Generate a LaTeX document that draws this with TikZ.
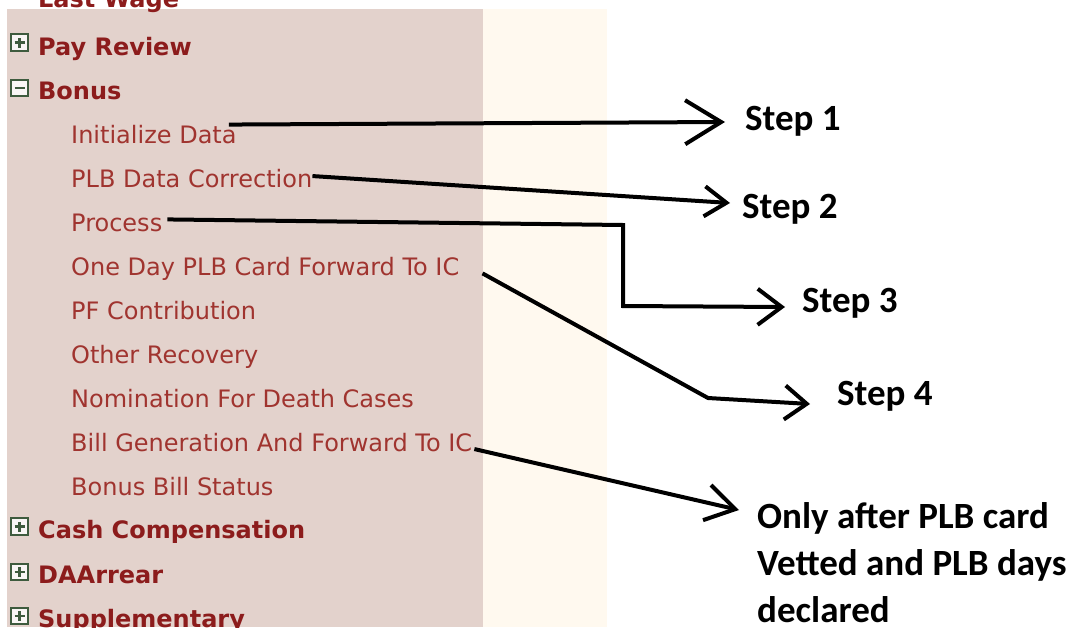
\documentclass[tikz,border=0pt]{standalone}
\usepackage{fontspec}
\setmainfont{DejaVu Sans}
\newfontfamily\stepfont{Carlito}
\usetikzlibrary{arrows.meta,calc}
\definecolor{panel}{HTML}{E3D2CC}
\definecolor{cream}{HTML}{FFF9EF}
\definecolor{headred}{HTML}{8C1C1C}
\definecolor{itemred}{HTML}{A0342F}
\definecolor{boxgreen}{HTML}{3E5B3E}
\begin{document}
\begin{tikzpicture}[x=1pt,y=-1pt,
  head/.style={anchor=base west, inner sep=0pt, font=\fontsize{24}{24}\selectfont\bfseries, text=headred},
  item/.style={anchor=base west, inner sep=0pt, font=\fontsize{24}{24}\selectfont, text=itemred},
  steplabel/.style={anchor=base west, inner sep=0pt, font=\stepfont\bfseries\fontsize{37}{37}\selectfont, text=black},
  notelabel/.style={anchor=north west, inner sep=0pt, align=left, font=\stepfont\bfseries\fontsize{37}{47}\selectfont, text=black},
  togglebox/.style={draw=boxgreen, line width=2pt, fill=white!80!panel, minimum size=16.5pt, inner sep=0pt},
  plusbox/.style={togglebox, path picture={
      \draw[boxgreen, line width=2.2pt]
        ([xshift=-5pt]path picture bounding box.center) -- ([xshift=5pt]path picture bounding box.center)
        ([yshift=-5pt]path picture bounding box.center) -- ([yshift=5pt]path picture bounding box.center);}},
  minusbox/.style={togglebox, path picture={
      \draw[boxgreen, line width=2.2pt]
        ([xshift=-5pt]path picture bounding box.center) -- ([xshift=5pt]path picture bounding box.center);}},
  link/.style={line width=4pt, line join=miter, draw=black}
]
\clip (0,0) rectangle (1082,627);
\fill[white] (0,0) rectangle (1082,627);
% panels
\fill[panel] (7,9) rectangle (483,627);
\fill[cream] (483,9) rectangle (607,627);

% headings
\node[head] (lastwage) at (38,7) {Last Wage};
\node[plusbox] (tpay) at (19.5,42.5) {};
\node[head] (payreview) at (38,55) {Pay Review};
\node[minusbox] (tbonus) at (19.5,88) {};
\node[head] (bonus) at (38,99) {Bonus};

% sub items
\node[item] (init) at (71,143) {Initialize Data};
\node[item] (plb) at (71,187) {PLB Data Correction};
\node[item] (proc) at (71,231) {Process};
\node[item] (oneday) at (71,275) {One Day PLB Card Forward To IC};
\node[item] (pf) at (71,319) {PF Contribution};
\node[item] (other) at (71,363) {Other Recovery};
\node[item] (nomin) at (71,407) {Nomination For Death Cases};
\node[item] (billgen) at (71,451) {Bill Generation And Forward To IC};
\node[item] (billstat) at (71,495) {Bonus Bill Status};

\node[plusbox] (tcash) at (19.5,526.5) {};
\node[head] (cash) at (38,538) {Cash Compensation};
\node[plusbox] (tda) at (19.5,572) {};
\node[head] (daarrear) at (38,583) {DAArrear};
\node[plusbox] (tsupp) at (19.5,616) {};
\node[head] (supp) at (38,627) {Supplementary};

% step labels
\node[steplabel] (step1) at (745,130) {Step 1};
\node[steplabel] (step2) at (742,218) {Step 2};
\node[steplabel] (step3) at (802,312) {Step 3};
\node[steplabel] (step4) at (837,405) {Step 4};
\node[notelabel] (note) at (757,502) {Only after PLB card\\Vetted and PLB days\\declared};

% connector ends
\coordinate (tip1) at (725,122);
\coordinate (tip2) at (730,203);
\coordinate (bend3a) at (623,225);
\coordinate (bend3b) at (623,306);
\coordinate (tip3) at (785,307);
\coordinate (bend4) at (708,398);
\coordinate (tip4) at (810,404);
\coordinate (tip5) at (739,510);

% connectors
\draw[link, -{Straight Barb[length=36pt,width=44pt,line width=4pt]}]
  ([xshift=-8pt]init.north east) -- (tip1);
\draw[link, -{Straight Barb[length=22pt,width=30pt,line width=4pt]}]
  ([yshift=2pt]plb.east) -- (tip2);
\draw[link, -{Straight Barb[length=24pt,width=36pt,line width=4pt]}]
  ([xshift=5pt,yshift=3pt]proc.east) -- (bend3a) -- (bend3b) -- (tip3);
\draw[link, -{Straight Barb[length=22pt,width=34pt,line width=4pt]}]
  ([xshift=23pt,yshift=-5pt]oneday.east) -- (bend4) -- (tip4);
\draw[link, -{Straight Barb[length=29pt,width=36pt,line width=4pt]}]
  ([xshift=2pt,yshift=-7pt]billgen.east) -- (tip5);
\end{tikzpicture}
\end{document}
